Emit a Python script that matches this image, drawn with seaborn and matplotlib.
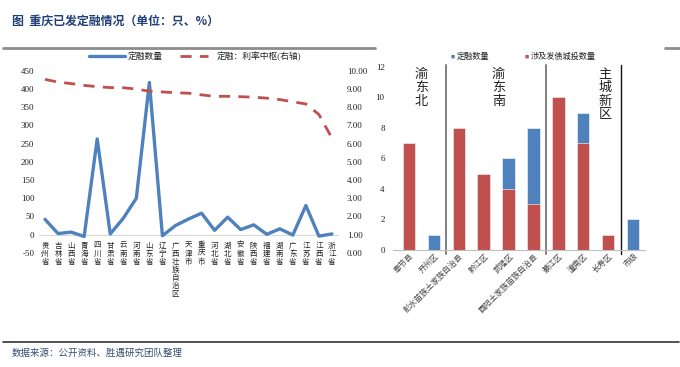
import numpy as np
import pandas as pd
import matplotlib
matplotlib.use("Agg")
import matplotlib.pyplot as plt
import seaborn as sns

# -----------------------------
# data
# -----------------------------
provinces = ["贵州省", "吉林省", "山西省", "青海省", "四川省", "甘肃省", "云南省", "河南省",
             "山东省", "辽宁省", "广西壮族自治区", "天津市", "重庆市", "河北省", "湖北省",
             "安徽省", "陕西省", "福建省", "湖南省", "广东省", "江苏省", "江西省", "浙江省"]
issue_count = [42, 3, 7, -5, 263, 2, 45, 100, 418, -3, 25, 43, 59, 12, 48, 14, 27, 1, 16, -1, 80, -4, 2]
rate_mid = [9.53, 9.38, 9.30, 9.20, 9.13, 9.08, 9.07, 9.00, 8.88, 8.84, 8.80, 8.77, 8.68,
            8.60, 8.60, 8.58, 8.55, 8.50, 8.42, 8.30, 8.18, 7.60, 6.30]

districts = ["奉节县", "开州区", "彭水苗族土家族自治县", "黔江区", "武隆区",
             "酉阳土家族苗族自治县", "綦江区", "潼南区", "长寿区", "市级"]
dr_count = [7, 1, 8, 5, 6, 8, 10, 9, 1, 2]
bond_count = [7, 0, 8, 5, 4, 3, 10, 7, 1, 0]
regions = ["渝东北", "渝东南", "主城新区"]

BLUE = "#4f81bd"
RED = "#c0504d"
TXT = "#222222"

sns.set_theme(style="white")
plt.rcParams["font.family"] = ["Liberation Serif", "Noto Sans CJK SC", "DejaVu Sans"]
plt.rcParams["axes.unicode_minus"] = False

fig = plt.figure(figsize=(6.8, 3.67), dpi=100)

# header / footer
fig.text(0.017, 0.943, "图  重庆已发定融情况（单位：只、%）", fontsize=8.6, fontweight="bold",
         color="#1f3f77", family=["Noto Sans CJK SC"], va="center")
fig.add_artist(plt.Line2D([0.005, 0.552], [0.869, 0.869], color="#8c8c8c", lw=2))
fig.add_artist(plt.Line2D([0.978, 1.0], [0.869, 0.869], color="#8c8c8c", lw=2))
fig.add_artist(plt.Line2D([0.005, 0.998], [0.068, 0.068], color="#333333", lw=1.2))
fig.text(0.017, 0.038, "数据来源：公开资料、胜遇研究团队整理", fontsize=6.8,
         color="#3a4d6e", family=["Noto Sans CJK SC"], va="center")

# -----------------------------
# left chart: line + dashed rate on twin axis
# -----------------------------
df_l = pd.DataFrame({"x": np.arange(len(provinces)), "count": issue_count, "rate": rate_mid})

ax1 = fig.add_axes([38.5 / 680, 0.311, 300 / 680, 0.496])
sns.lineplot(data=df_l, x="x", y="count", ax=ax1, color=BLUE, lw=2.4,
             solid_joinstyle="round", solid_capstyle="round", legend=False)
ax1.set_xlim(-0.5, len(provinces) - 0.5)
ax1.set_ylim(-50, 450)
ax1.set_yticks(np.arange(-50, 451, 50))
ax1.axhline(0, color="#d9d9d9", lw=0.8, zorder=0)
ax1.set_xticks([])
ax1.set_xlabel("")
ax1.set_ylabel("")
for s in ax1.spines.values():
    s.set_visible(False)
ax1.tick_params(axis="y", labelsize=6.5, length=0, pad=3, colors=TXT)

ax2 = ax1.twinx()
sns.lineplot(data=df_l, x="x", y="rate", ax=ax2, color=RED, lw=2.0, legend=False)
ax2.lines[0].set_dashes([4, 3])
ax2.set_ylim(0, 10)
ax2.set_yticks(np.arange(0, 10.01, 1))
ax2.set_yticklabels([f"{v:.2f}" for v in np.arange(0, 10.01, 1)])
ax2.set_ylabel("")
for s in ax2.spines.values():
    s.set_visible(False)
ax2.tick_params(axis="y", labelsize=6.5, length=0, pad=6, colors=TXT)

# vertical stacked category labels
for i, name in enumerate(provinces):
    ax1.annotate("\n".join(name), xy=(i, 0), xytext=(0, -5), textcoords="offset points",
                 ha="center", va="top", fontsize=5.4, linespacing=1.0, color=TXT,
                 family=["Noto Sans CJK SC"], annotation_clip=False)

# legend for left chart
fig.add_artist(plt.Line2D([89 / 680, 125 / 680], [0.847, 0.847], color=BLUE, lw=2.4))
fig.text(128 / 680, 0.847, "定融数量", fontsize=6.3, va="center", color=TXT)
ln = plt.Line2D([180 / 680, 208 / 680], [0.847, 0.847], color=RED, lw=2.0)
ln.set_dashes([4, 3])
fig.add_artist(ln)
fig.text(217 / 680, 0.847, "定融：利率中枢(右轴)", fontsize=6.3, va="center", color=TXT)

# -----------------------------
# right chart: overlapping bars
# -----------------------------
df_r = pd.DataFrame({"district": districts, "dr": dr_count, "bond": bond_count})

ax3 = fig.add_axes([393 / 680, 0.319, 252 / 680, 0.499])
sns.barplot(data=df_r, x="district", y="dr", ax=ax3, color=BLUE, width=0.5,
            saturation=1, edgecolor="white", linewidth=0.4)
sns.barplot(data=df_r, x="district", y="bond", ax=ax3, color=RED, width=0.5,
            saturation=1, edgecolor="white", linewidth=0.4)
ax3.set_xlim(-0.64, 9.48)
ax3.set_ylim(0, 12)
ax3.set_yticks(np.arange(0, 13, 2))
ax3.set_xlabel("")
ax3.set_ylabel("")
for k in ["top", "right", "left"]:
    ax3.spines[k].set_visible(False)
ax3.spines["bottom"].set_color("#bfbfbf")
ax3.spines["bottom"].set_linewidth(0.8)
ax3.tick_params(axis="y", labelsize=6.5, length=0, pad=6, colors=TXT)
ax3.tick_params(axis="x", length=0, pad=1)
ax3.set_xticks(range(len(districts)))
ax3.set_xticklabels(districts, rotation=45, ha="right", rotation_mode="anchor",
                    fontsize=5.8, color="#444444", family=["Noto Sans CJK SC"])

for xs, col, lw in [(1.5, "#7f7f7f", 1.4), (5.5, "#7f7f7f", 1.4), (8.5, "#111111", 1.0)]:
    ax3.plot([xs, xs], [-0.25, 12.1], color=col, lw=lw, clip_on=False)

for xr, name in zip([0.5, 3.6, 7.87], regions):
    ax3.text(xr, 11.95, "\n".join(name), ha="center", va="top", fontsize=9.5,
             linespacing=1.05, color=TXT, family=["Noto Sans CJK SC"])

# legend for right chart
fig.text(451 / 680, 0.845, "■", fontsize=5, color=BLUE, va="center")
fig.text(457 / 680, 0.845, "定融数量", fontsize=5.9, va="center", color=TXT)
fig.text(525 / 680, 0.845, "■", fontsize=5, color=RED, va="center")
fig.text(531 / 680, 0.845, "涉及发债城投数量", fontsize=5.9, va="center", color=TXT)

fig.savefig("out.png", dpi=100)
